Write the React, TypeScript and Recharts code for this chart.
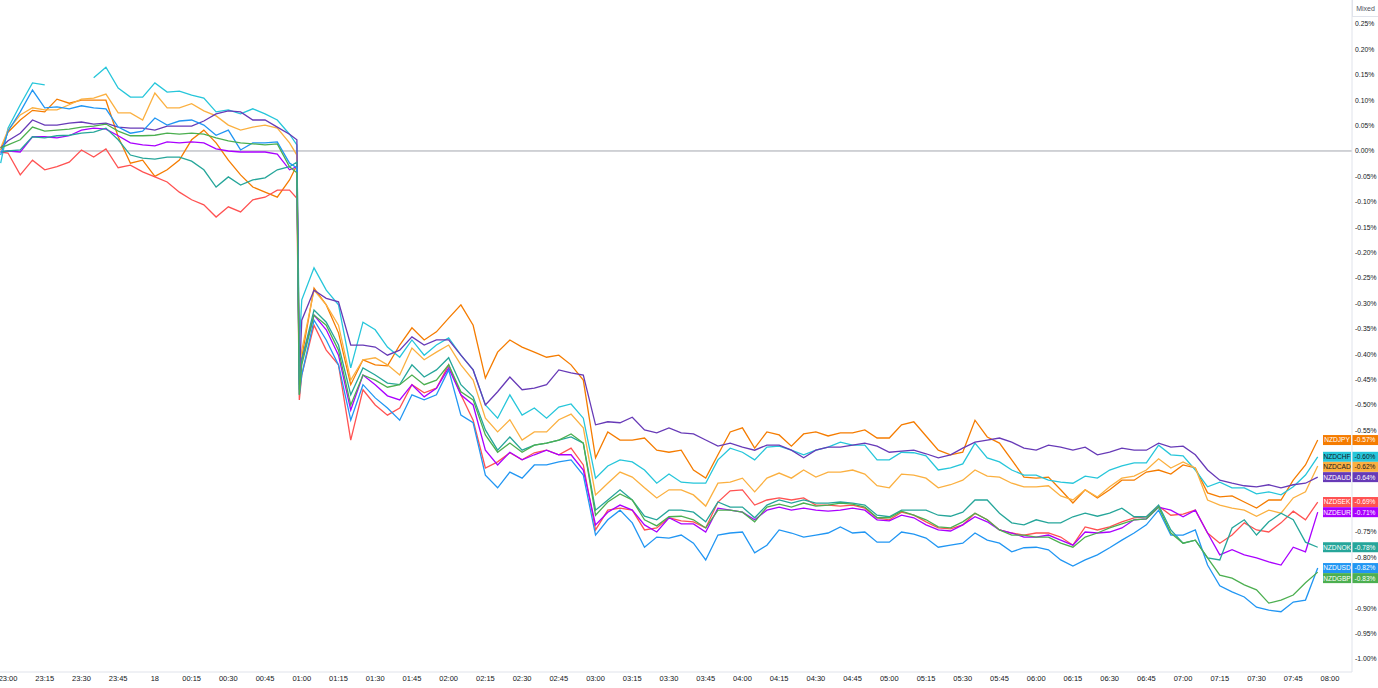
import React from "react";
import { LineChart, Line, XAxis, YAxis, ReferenceLine } from "recharts";

// minutes after 23:00 (negative = just before)
const times = [
  -3, 0, 5, 10, 15, 20, 25, 30, 35, 40, 45, 50, 55, 60, 65, 70, 75, 80, 85, 90, 95, 100, 105, 110, 115, 118,
  119, 120, 125, 130, 135, 140, 145, 150, 155, 160, 165, 170, 175, 180, 185, 190, 195, 200, 205, 210, 215, 220, 225, 230, 235, 240, 245,
  250, 255, 260, 265, 270, 275, 280, 285, 290, 295, 300, 305, 310, 315, 320, 325, 330, 335, 340, 345, 350, 355, 360, 365, 370, 375, 380, 385, 390,
  395, 400, 405, 410, 415, 420, 425, 430, 435, 440, 445, 450, 455, 460, 465, 470, 475, 480, 485, 490, 495, 500, 505, 510, 515, 520, 525, 530, 535,
];

const xTicks = [0, 15, 30, 45, 60, 75, 90, 105, 120, 135, 150, 165, 180, 195, 210, 225, 240, 255, 270, 285, 300, 315, 330, 345, 360, 375, 390, 405, 420, 435, 450, 465, 480, 495, 510, 525, 540];
const xTickLabels = ["23:00", "23:15", "23:30", "23:45", "18", "00:15", "00:30", "00:45", "01:00", "01:15", "01:30", "01:45", "02:00", "02:15", "02:30", "02:45", "03:00", "03:15", "03:30", "03:45", "04:00", "04:15", "04:30", "04:45", "05:00", "05:15", "05:30", "05:45", "06:00", "06:15", "06:30", "06:45", "07:00", "07:15", "07:30", "07:45", "08:00"];
const yTicks = [0.25, 0.2, 0.15, 0.1, 0.05, 0, -0.05, -0.1, -0.15, -0.2, -0.25, -0.3, -0.35, -0.4, -0.45, -0.5, -0.55, -0.6, -0.65, -0.7, -0.75, -0.8, -0.85, -0.9, -0.95, -1.0];

// values in hundredths of a percent
const nzdjpy = [
  0.2, 3.7, 6.1, 8, 7.7, 10.2, 9.4, 10, 10, 10, 2.8, -2.4, -1.8, -5, -3.7, -1.8, 2.2, 4.1, 1.6, -1.8, -4.7, -7.1, -8.1, -9.1, -5.7, -2.8,
  -44, -40.6, -27, -30.3, -35.8, -46, -41.1, -42.1, -42.3, -38.2, -34.8, -37.2, -35.6, -32.9, -30.3, -34.3, -44.7, -39.6, -37.2, -38.6, -39.6, -40.6, -40.2, -42.1, -45.1, -60.4, -55.3,
  -56.9, -56.9, -56.5, -58.9, -59.3, -58.9, -62.8, -64.4, -59.8, -55.3, -54.5, -58.5, -55.3, -55.9, -58.1, -55.7, -55.3, -56.1, -55.5, -55.5, -54.9, -56.5, -56.5, -53.9, -53.3, -56.1, -58.9, -59.8, -59.3,
  -53, -56.3, -57.5, -60.8, -64.2, -64.4, -64.2, -66.7, -69.3, -66.7, -68.3, -66.7, -64.8, -64.8, -63.2, -62.8, -63.6, -61.8, -62.4, -67.3, -68.1, -67.9, -69.1, -70.3, -68.7, -68.7, -64.8, -61.8, -56.9,
];
const nzdchf = [
  -2.4, 4.5, 9.1, 13.4, 13.0, null, null, null, 14.4, 16.5, 12.4, 10.6, 10.6, 13.4, 11.6, 11.8, 11.0, 10.4, 7.7, 8.1, 7.3, 8.3, 7.3, 6.1, 3.3, 1.2,
  -38.2, -29.3, -23, -27.4, -30.3, -42.7, -33.7, -35.2, -38.6, -40.6, -37.2, -40.2, -38.2, -36.8, -40.2, -43.1, -50, -52.6, -48, -52, -50.6, -52.6, -50.4, -49.8, -52.6, -64.4, -62,
  -60.8, -61.2, -62.8, -65.4, -63.6, -65.2, -65.4, -65.4, -60.8, -58.5, -59.3, -60.8, -58.3, -58.1, -58.9, -59.8, -58.9, -58.3, -57.3, -57.9, -57.9, -60.8, -60.8, -59.3, -59.4, -60, -62.8, -62.4, -61.6,
  -57.5, -60.4, -61.2, -62.8, -63.8, -63.8, -64.8, -65.2, -65.4, -64, -64.4, -62.8, -62, -61.4, -61.4, -57.9, -59.8, -60, -62.8, -66.1, -65.2, -66.3, -66.3, -67.5, -67.1, -67.7, -66.1, -63.8, -60.2,
];
const nzdcad = [
  0.6, 4.1, 7.1, 8.5, 8.1, 8.1, 9.1, 10.2, 10.4, 11.2, 7.5, 7.5, 6.1, 11.4, 8.5, 8.5, 9.3, 7.9, 6.9, 5.1, 4.1, 4.7, 5.1, 4.5, 1.6, -0.8,
  -43.1, -39.2, -27.4, -30.3, -34.3, -45.1, -41.1, -40.7, -42.1, -44.1, -38.8, -41.1, -39.6, -38.2, -42.1, -45.1, -52.6, -55.3, -52.9, -56.9, -55.3, -55.3, -52.9, -51.8, -54.5, -67.7, -65.4,
  -63.2, -64.2, -66.3, -68.3, -66.7, -66.7, -67.7, -69.9, -65.4, -65.2, -64.4, -67.1, -64.4, -63.4, -64.4, -62.8, -64.2, -63.2, -63.2, -62.8, -63.6, -65.9, -66.3, -63.6, -63.8, -64.4, -66.3, -65.7, -64.8,
  -62.8, -64, -64.2, -65.4, -66.1, -66.1, -65.9, -67.9, -68.7, -66.7, -68.1, -66.1, -64.4, -64, -62.8, -60.6, -62.4, -61.2, -62.4, -68.7, -69.7, -70.3, -70.7, -71.9, -70.7, -71.3, -68.3, -67.1, -62,
];
const nzdaud = [
  0.6, 2.0, 3.5, 6.1, 5.1, 5.1, 5.5, 5.7, 5.3, 5.5, 4.7, 4.5, 4.5, 4.1, 4.9, 4.9, 4.9, 5.9, 7.3, 7.9, 7.7, 6.1, 6.1, 4.7, 3.3, 2.2,
  -45, -33.3, -27.4, -29, -29.7, -38.2, -38.2, -38.6, -40.2, -39.2, -36.6, -38.2, -37.2, -37.2, -40.2, -43.1, -50, -47.4, -44.5, -47, -46.7, -46, -43.1, -43.7, -44.1, -53.9, -53.3,
  -53.5, -52.4, -54.9, -55.5, -54.5, -55.5, -55.7, -56.9, -58.1, -57.5, -58.3, -58.9, -57.9, -57.9, -58.9, -60.4, -58.9, -58.3, -58.3, -57.9, -57.5, -58.1, -59.3, -59.1, -58.9, -59.6, -60.4, -59.8, -58.5,
  -57.3, -56.9, -56.5, -57.3, -58.5, -58.9, -57.9, -58.3, -58.9, -58.3, -59.8, -59.3, -58.5, -58.9, -58.9, -57.5, -58.3, -58.1, -59.8, -62.8, -64.8, -65.4, -65.9, -66.1, -65.7, -66.3, -65.7, -65.4, -64.2,
];
const nzdsek = [
  -0.2, -0.4, -4.7, -1.8, -3.7, -3.1, -2.2, 0.2, -1.2, 0.4, -3.3, -2.8, -4.1, -5.1, -6.1, -8.1, -9.6, -10.6, -13, -11, -12, -9.6, -9.1, -7.7, -7.7, -9.3,
  -49, -44.1, -34.3, -39.2, -42.1, -56.9, -47, -50, -52, -50.6, -46, -47.6, -46.7, -42.1, -48, -53, -62.4, -61.2, -59.4, -60.8, -59.4, -58.9, -59.8, -58.5, -61.8, -74.6, -70.7,
  -70.3, -70.7, -74.6, -74.2, -72.2, -72.8, -73, -74.2, -69.1, -66.9, -66.7, -69.7, -68.7, -68.3, -68.7, -68.3, -69.7, -69.7, -69.9, -69.7, -70.3, -72.2, -72.6, -71.1, -71.7, -73, -74.2, -74.4, -73.6,
  -71.3, -72.6, -74.6, -75.2, -75.6, -75.2, -75.2, -76, -77.6, -74, -74.6, -74, -73, -72.2, -72, -69.9, -71.7, -71.5, -70.7, -75.2, -77.2, -75.6, -73.2, -74.6, -75, -73.2, -70.9, -72.6, -69.1,
];
const nzdeur = [
  -0.2, 0, -0.2, 2.8, 2.8, 2.6, 3.0, 4.1, 4.5, 4.3, 3.0, 1.6, 1.2, 1.0, 1.8, 1.6, 1.8, 1.6, 0.4, 0, -0.2, -0.2, -0.2, -0.6, -3.7, -3.1,
  -46, -41.1, -32.3, -35.2, -40.2, -51, -44.1, -46, -48.2, -49, -46, -48.4, -46.7, -42.7, -48, -50, -58.9, -61.8, -59.3, -60.8, -59.8, -58.9, -59.8, -59.8, -62.8, -73.6, -71.1,
  -69.7, -70.7, -73.6, -75, -72.2, -73.4, -73.4, -75, -70.3, -70.7, -71.1, -72.6, -70.7, -70.1, -70.7, -70.3, -70.7, -70.9, -70.7, -70.3, -70.7, -72.6, -72.8, -71.7, -72.2, -73.6, -74.6, -74.8, -73.6,
  -72, -73, -74.6, -75.2, -76, -76, -75.6, -76.6, -77.6, -75, -75.2, -75, -74.2, -72.6, -72.4, -70.1, -70.7, -72, -70.7, -75.2, -79.5, -78.5, -79.5, -80.1, -80.9, -81.5, -78, -78.9, -71.1,
];
const nzdnok = [
  -0.2, 0, 0.2, 2.8, 2.6, 3.0, 3.1, 3.5, 3.7, 4.5, 2.2, -0.8, -1.4, -1.6, -1.2, -1.2, -2.0, -3.7, -7.1, -5.1, -6.7, -5.7, -5.3, -3.7, -3.1, -2.2,
  -47, -41.1, -31.3, -33.7, -38.2, -48, -42.7, -44.1, -45.7, -46, -42.1, -44.5, -43.1, -40.7, -46, -48.4, -54.9, -58.9, -56.3, -58.9, -57.9, -57.5, -56.9, -56.3, -57.5, -70.7, -68.7,
  -66.7, -68.7, -71.9, -72.6, -70.7, -70.7, -71.1, -73, -69.1, -70.1, -70.1, -72.2, -69.7, -68.7, -69.3, -68.7, -69.3, -69.3, -69.1, -69.3, -69.7, -71.7, -72, -70.7, -70.7, -70.7, -71.7, -71.9, -71.1,
  -68.7, -68.7, -71.3, -73.2, -73.6, -72.6, -73.2, -73.2, -72, -71.3, -71.9, -71.3, -70.3, -72, -72, -69.7, -74.6, -77.2, -76.6, -80.1, -80.5, -74.2, -72.6, -75.6, -73, -71.3, -72.6, -77, -78,
];
const nzdusd = [
  -0.8, 3.9, 7.7, 12.0, 8.5, 8.7, 8.3, 8.9, 8.5, 8.3, 4.7, 3.5, 3.9, 6.5, 5.1, 5.9, 6.1, 5.1, 3.1, 4.1, 0.2, 1.6, 1.6, 1.8, -2.4, -3.3,
  -48, -44.1, -33.3, -37.2, -42.1, -53, -46, -48.6, -50.6, -53, -48, -49, -48, -43.1, -52, -53.5, -63.8, -66.3, -63.2, -64.4, -61.8, -61.8, -61.2, -60.8, -63.8, -75.6, -72.6,
  -70.7, -73.2, -78, -76, -76.2, -75.6, -77.2, -80.5, -75.6, -75.2, -75, -79.1, -77.6, -74.6, -75.2, -76, -75.6, -75.2, -74, -75.2, -75, -77, -77, -75, -75.4, -76.2, -78, -77.6, -77.2,
  -75.2, -76.6, -77.2, -78.9, -78.1, -78, -78.5, -80.5, -81.7, -80.5, -79.5, -78.1, -76.6, -75.2, -73.6, -70.7, -75.6, -75.6, -74.6, -81.5, -85.6, -86.8, -87.8, -89.8, -90.4, -90.7, -88.8, -88.4, -82.1,
];
const nzdgbp = [
  0.6, 1.2, 2.2, 4.7, 3.9, 4.1, 4.3, 4.7, 4.9, 5.3, 3.9, 3.0, 3.0, 3.1, 3.5, 3.3, 3.5, 3.3, 2.6, 2.0, 1.6, 1.4, 1.2, 1.4, -3.1, -4.3,
  -48, -42.1, -32.3, -34.3, -39.2, -50, -44.1, -45.1, -46.5, -46, -44.1, -46, -45.1, -42.1, -47.4, -49, -55.9, -59.3, -57.5, -59.3, -57.9, -57.5, -56.9, -55.7, -57.5, -71.7, -69.1,
  -67.5, -68.7, -72.6, -73.8, -72, -71.9, -72.6, -74.2, -70.7, -70.7, -71.1, -73, -70.1, -69.5, -70.1, -69.3, -69.9, -69.7, -69.3, -69.5, -70.1, -72.2, -72.2, -70.9, -71.7, -72.6, -74, -74.2, -73,
  -71.3, -72.6, -74.6, -75.6, -75.6, -76, -76, -77.2, -78, -76, -75.2, -74.2, -73.4, -72.6, -72.4, -70.1, -75.2, -77.2, -76.6, -80.1, -83.5, -84.1, -85.4, -86.4, -89, -88.4, -87.4, -85, -82.9,
];

const seriesList = [
  { key: "NZDJPY", color: "#f57c00", text: "#ffffff", values: nzdjpy },
  { key: "NZDCHF", color: "#26c6da", text: "#131722", values: nzdchf },
  { key: "NZDCAD", color: "#fbb040", text: "#131722", values: nzdcad },
  { key: "NZDAUD", color: "#673ab7", text: "#ffffff", values: nzdaud },
  { key: "NZDSEK", color: "#ff5252", text: "#ffffff", values: nzdsek },
  { key: "NZDEUR", color: "#aa00ff", text: "#ffffff", values: nzdeur },
  { key: "NZDNOK", color: "#26a69a", text: "#ffffff", values: nzdnok },
  { key: "NZDUSD", color: "#2196f3", text: "#ffffff", values: nzdusd },
  { key: "NZDGBP", color: "#4caf50", text: "#ffffff", values: nzdgbp },
];

const data = times.map((t, i) => {
  const row: any = { t };
  seriesList.forEach((s) => {
    const v = s.values[i];
    row[s.key] = v == null ? null : v / 100;
  });
  return row;
});

const fmtPct = (v: number) => {
  const s = Math.abs(v).toFixed(2) + "%";
  return v < -0.00001 ? "-" + s : s;
};

// last-value tags, pushed apart so they do not overlap
const tags = (() => {
  const list = seriesList.map((s) => {
    const last = s.values[s.values.length - 1] as number;
    return { key: s.key, color: s.color, text: s.text, value: last / 100, pos: last / 100 };
  });
  list.sort((a, b) => b.value - a.value);
  for (let i = 1; i < list.length; i++) {
    if (list[i - 1].pos - list[i].pos < 0.0198) list[i].pos = list[i - 1].pos - 0.0198;
  }
  return list;
})();

const FONT = "'Liberation Sans', Arial, sans-serif";

const hiddenByTag = (v: number) => tags.some((t) => Math.abs(t.pos - v) < 0.0135);

const YTick = (props: any) => {
  const { x, y, payload } = props;
  if (hiddenByTag(payload.value)) return <g />;
  return (
    <text x={x} y={y} dy="0.35em" textAnchor="start" fontSize={6.8} fill="#131722" fontFamily={FONT}>
      {fmtPct(payload.value)}
    </text>
  );
};

const makeTag = (tag: any) => (props: any) => {
  const vb = props.viewBox || {};
  const right = (vb.x || 0) + (vb.width || 0);
  const y = vb.y || 0;
  const h = 10;
  return (
    <g>
      <rect x={right - 29} y={y - h / 2} width={28} height={h} fill={tag.color} />
      <text x={right - 15} y={y + 2.4} fontSize={6.6} fill={tag.text} textAnchor="middle" fontFamily={FONT}>
        {tag.key}
      </text>
      <rect x={right} y={y - h / 2} width={26} height={h} fill={tag.color} />
      <text x={right + 13} y={y + 2.4} fontSize={6.6} fill={tag.text} textAnchor="middle" fontFamily={FONT}>
        {fmtPct(tag.value)}
      </text>
    </g>
  );
};

export default function App() {
  return (
    <div style={{ position: "relative", width: 1378, height: 688, background: "#ffffff" }}>
      <style>{"body{margin:0;background:#fff;}"}</style>
      <LineChart width={1378} height={688} data={data} margin={{ top: 0, right: 0, bottom: 0, left: 0 }}>
        <XAxis
          type="number"
          dataKey="t"
          domain={[-3.27, 549]}
          allowDataOverflow
          ticks={xTicks}
          interval={0}
          tickFormatter={(v: number) => xTickLabels[xTicks.indexOf(v)] ?? ""}
          tick={{ fontSize: 7.5, fill: "#131722", fontFamily: FONT }}
          tickLine={false}
          tickSize={0}
          tickMargin={4}
          axisLine={{ stroke: "#e0e3eb" }}
          height={16}
        />
        <YAxis
          orientation="right"
          domain={[-1.0256, 0.2972]}
          allowDataOverflow
          ticks={yTicks}
          interval={0}
          tick={<YTick />}
          tickLine={false}
          tickSize={0}
          tickMargin={3}
          axisLine={{ stroke: "#e0e3eb" }}
          width={26}
        />
        <ReferenceLine y={0} stroke="#a3a6af" strokeWidth={1} />
        {seriesList.map((s) => (
          <Line
            key={s.key}
            type="linear"
            dataKey={s.key}
            stroke={s.color}
            strokeWidth={1.3}
            dot={false}
            activeDot={false}
            isAnimationActive={false}
          />
        ))}
        {tags.map((tag) => (
          <ReferenceLine
            key={"tag-" + tag.key}
            y={tag.pos}
            stroke="none"
            ifOverflow="visible"
            label={makeTag(tag)}
          />
        ))}
      </LineChart>
      <div
        style={{
          position: "absolute",
          left: 1352,
          top: 0,
          width: 26,
          height: 17,
          boxSizing: "border-box",
          borderLeft: "1px solid #e0e3eb",
          borderBottom: "1px solid #e0e3eb",
          fontFamily: FONT,
          fontSize: 7,
          color: "#50535e",
          display: "flex",
          alignItems: "center",
          justifyContent: "center",
        }}
      >
        Mixed
      </div>
    </div>
  );
}
